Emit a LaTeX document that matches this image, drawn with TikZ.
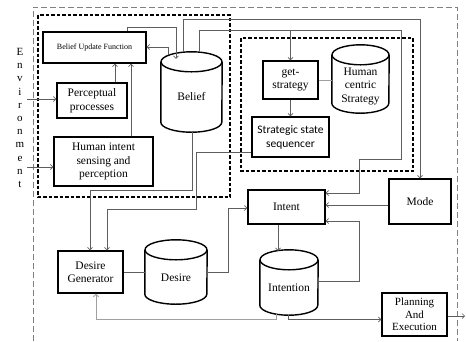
\documentclass[tikz,border=0pt]{standalone}
\usepackage{fontspec}
\setmainfont{Liberation Serif}
\newfontfamily\calib{Carlito}
\usetikzlibrary{arrows.meta,calc}
\definecolor{lc}{HTML}{5E5E5E}
\definecolor{llc}{HTML}{A0A0A0}
\tikzset{
 box/.style={draw=black, line width=1.4pt, inner sep=1pt, align=center, font=\fontsize{11.5}{13.5}\selectfont},
 cylnode/.style={inner sep=0pt},
 lbl/.style={align=center, inner sep=0pt, font=\fontsize{11.5}{13.5}\selectfont},
 conn/.style={draw=lc, line width=0.7pt},
 arr/.style={conn, -{Straight Barb[length=2.5pt,width=5pt]}},
 lconn/.style={draw=llc, line width=0.9pt},
 larr/.style={lconn, -{Straight Barb[length=2.5pt,width=5pt]}},
 grp/.style={draw=black, line width=1.3pt, dash pattern=on 3.5pt off 2pt},
 outerline/.style={draw=gray, line width=0.6pt, dash pattern=on 6pt off 3pt},
 cyl/.style={draw=black, line width=1.4pt},
}
\newcommand{\cylshape}[3]{%
  \draw[cyl] ($(#1.north)+(0,#3)$) ellipse [x radius=#2, y radius=#3];
  \draw[cyl] ($(#1.north west)+(0,#3)$) -- ($(#1.south west)+(0,-#3)$) arc[start angle=180, end angle=0, x radius=#2, y radius=#3] -- ($(#1.north east)+(0,#3)$);
}
\begin{document}
\begin{tikzpicture}[x=1pt,y=-1pt]
\useasboundingbox (0,0) rectangle (466,341);
% frames
\draw[outerline] (33,341) -- (33,7) -- (457,7) -- (457,341);
\draw[grp] (38,15) rectangle (230,197);
\draw[grp] (241,38) rectangle (413,171);
% nodes
\node[box, minimum width=103pt, minimum height=31pt, font=\fontsize{8}{9}\selectfont] (buf) at (94.5,47.5) {Belief Update Function};
\node[box, minimum width=70pt, minimum height=35pt] (perc) at (92,100.5) {Perceptual\\processes};
\node[box, minimum width=99pt, minimum height=49pt] (hisp) at (103.5,161.5) {Human intent\\sensing and\\perception};
\node[cylnode, minimum width=61pt, minimum height=80pt] (belief) at (191.5,92) {};
\cylshape{belief}{30.5}{10}
\node[lbl] (beliefT) at (191.5,97) {Belief};
\node[box, minimum width=55pt, minimum height=38pt] (gets) at (290.5,80) {get-\\strategy};
\node[cylnode, minimum width=57pt, minimum height=68pt] (hcs) at (360.5,79) {};
\cylshape{hcs}{28.5}{10}
\node[lbl] (hcsT) at (360.5,86) {Human\\centric\\Strategy};
\node[box, minimum width=77pt, minimum height=40pt, font=\calib\fontsize{11.5}{14}\selectfont] (sss) at (290.5,137) {Strategic state\\sequencer};
\node[box, minimum width=62pt, minimum height=45pt] (mode) at (420,201.5) {Mode};
\node[box, minimum width=77pt, minimum height=34pt] (intent) at (286.5,207) {Intent};
\node[cylnode, minimum width=58pt, minimum height=65pt] (intention) at (289,282.5) {};
\cylshape{intention}{29}{10}
\node[lbl] (intentionT) at (289,288) {Intention};
\node[box, minimum width=65pt, minimum height=43pt, font=\fontsize{11}{12.5}\selectfont] (plan) at (414.5,314.5) {Planning\\And\\Execution};
\node[box, minimum width=65pt, minimum height=42pt] (dgen) at (90.5,272) {Desire\\Generator};
\node[cylnode, minimum width=62pt, minimum height=64pt] (desire) at (176,272) {};
\cylshape{desire}{31}{10}
\node[lbl] (desireT) at (176,278) {Desire};
\node[lbl, font=\fontsize{11}{13.2}\selectfont] (env) at (20,118) {E\\n\\v\\i\\r\\o\\n\\m\\e\\n\\t};
\coordinate (envA) at (27,99);
\coordinate (envB) at (27,167);
\coordinate (out) at (465,316);
% connectors
\draw[arr] (envA) -- (perc.west |- envA);
\draw[arr] (envB) -- (hisp.west |- envB);
\draw[arr] (perc.north -| 115,0) -- (buf.south -| 115,0);
\draw[arr] (hisp.north -| 131,0) -- (buf.south -| 131,0);
\draw[arr] (buf.north -| 127,0) |- (176,27) -- ($(belief.north -| 176,0)+(0,7)$);
\draw[arr] ($(belief.north -| 168,0)+(0,3.5)$) |- (buf.east |- 0,47);
\draw[arr] (belief.north -| 183,0) |- (420,19) -- (mode.north);
\draw[arr] (belief.north -| 199,0) |- (401,30) -- (401,159) -| (359,193) -- (intent.east |- 0,193);
\draw[arr] (gets.north |- 0,30) -- (gets.north);
\draw[arr] (gets.south) -- (sss.north);
\draw[lconn] (gets.east) -- (hcs.west |- gets.east);
\draw[arr] (sss.west |- 0,152) -| (196,209) -| (dgen.north -| 107,0);
\draw[arr] (belief.south -| 192,0) -- (192,190) -| (dgen.north -| 90,0);
\draw[conn] (dgen.east) -- (desire.west |- dgen.east);
\draw[arr] (desire.east) -| (228,208) -- (intent.west |- 0,208);
\draw[arr] (mode.west |- 0,205) -- (intent.east |- 0,205);
\draw[arr] (intention.east |- 0,281) -| (359,221) -- (intent.east |- 0,221);
\draw[arr] (intent.south -| 278,0) -- ($(intention.north -| 278,0)+(0,1)$);
\draw[larr] ($(intention.south -| 276,0)+(0,-1)$) |- (96,319.5) -- (dgen.south -| 96,0);
\draw[arr] ($(intention.south -| 288,0)+(0,0)$) |- (plan.west |- 0,319.5);
\draw[arr] (plan.east |- out) -- (out);
\end{tikzpicture}
\end{document}
